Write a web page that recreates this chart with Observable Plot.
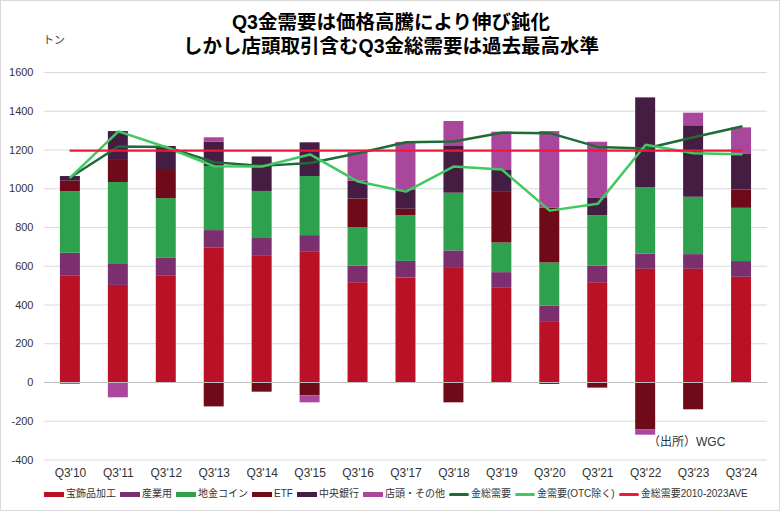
<!DOCTYPE html>
<html>
<head>
<meta charset="utf-8">
<script src="https://cdn.jsdelivr.net/npm/d3@7"></script>
<script src="https://cdn.jsdelivr.net/npm/@observablehq/plot@0.6"></script>
<style>
  html, body { margin: 0; padding: 0; background: #fff; }
  #wrap { position: relative; width: 780px; height: 511px; box-sizing: border-box; border: 1px solid #d9d9d9; overflow: hidden; font-family: "Liberation Sans", Arial, "Noto Sans CJK JP", sans-serif; }
  #title { position: absolute; left: 0; top: 9px; width: 780px; text-align: center; font-family: "Liberation Sans", Arial, "Noto Sans CJK JP", sans-serif; font-weight: 700; font-size: 19.5px; line-height: 24px; color: #000; }
  #unit { position: absolute; left: 42px; top: 33px; font-size: 11px; line-height: 13px; color: #404040; font-family: "Liberation Sans", "Noto Sans CJK JP", sans-serif; }
  #chart { position: absolute; left: -1px; top: 61px; }
  #source { position: absolute; left: 647px; top: 434px; font-size: 12px; line-height: 14px; color: #333; font-family: "Liberation Sans", "Noto Sans CJK JP", sans-serif; }
  #legend { position: absolute; left: 43px; top: 487px; display: flex; align-items: center; font-size: 10px; line-height: 12px; color: #333; font-family: "Liberation Sans", Arial, "Noto Sans CJK JP", sans-serif; white-space: nowrap; }
  #legend .item { display: flex; align-items: center; margin-right: 4px; }
  #legend .sw { width: 20px; height: 5px; margin-right: 2px; }
  #legend .ln { width: 20px; height: 3px; margin-right: 2px; border-radius: 2px; }
  #chart svg [aria-label="y-axis tick label"] text { font-size: 11px; }
</style>
</head>
<body>
<div id="wrap">
  <div id="title">Q3金需要は価格高騰により伸び鈍化<br>しかし店頭取引含むQ3金総需要は過去最高水準</div>
  <div id="unit">トン</div>
  <div id="chart"></div>
  <div id="source">（出所）WGC</div>
  <div id="legend"></div>
</div>
<script>
const quarters = ["Q3'10","Q3'11","Q3'12","Q3'13","Q3'14","Q3'15","Q3'16","Q3'17","Q3'18","Q3'19","Q3'20","Q3'21","Q3'22","Q3'23","Q3'24"];
const seriesNames = ["宝飾品加工","産業用","地金コイン","ETF","中央銀行","店頭・その他"];
const seriesColors = ["#ba1126","#7b2f6e","#2ea14f","#6f0a18","#461d42","#a8479b"];

const jewelry    = [548, 501, 548, 693, 651, 675, 515, 539, 593, 486, 314, 515, 584, 584, 543];
const industrial = [119, 112,  95,  91,  92,  83,  86,  86,  86,  81,  80,  86,  79,  76,  81];
const barCoin    = [318, 419, 306, 331, 243, 305, 198, 236, 298, 153, 223, 260, 343, 296, 275];
const etf        = [ 54, 114, 145,-126, -50, -69, 148,  33,-105, 265, 282, -29,-245,-141,  95];
const centralBank= [ 24, 149, 124, 125, 178, 174,  92,  97, 241, 109, -10,  92, 463, 369, 186];
const otcOther   = [-10, -79,   0,  23,   0, -36, 148, 248, 129, 198, 396, 287, -27,  65, 134];

const totalDemand = [1059, 1218, 1216, 1137, 1118, 1133, 1183, 1240, 1244, 1289, 1287, 1216, 1208, 1266, 1321];
const demandExOTC = [1059, 1296, 1214, 1116, 1115, 1177, 1037,  985, 1115, 1099,  887,  922, 1227, 1183, 1178];
const avg2010_2023 = 1197;

const lineNames = ["金総需要","金需要(OTC除く)","金総需要2010-2023AVE"];
const lineColors = ["#1f6b35","#40c862","#f0193a"];
const yTicks = [-400,-200,0,200,400,600,800,1000,1200,1400,1600];

const seriesValues = [jewelry, industrial, barCoin, etf, centralBank, otcOther];
const barData = seriesNames.flatMap((s, si) => quarters.map((q, qi) => ({q, s, v: seriesValues[si][qi]})));
const totalData = quarters.map((q, i) => ({q, v: totalDemand[i]}));
const exData = quarters.map((q, i) => ({q, v: demandExOTC[i]}));
const avgData = quarters.map(q => ({q, v: avg2010_2023}));

const chart = Plot.plot({
  width: 780,
  height: 425,
  marginLeft: 44,
  marginRight: 12,
  marginTop: 10,
  marginBottom: 27,
  style: {fontFamily: "'Liberation Sans', Arial, sans-serif", fontSize: "12px", color: "#333", background: "transparent"},
  x: {domain: quarters, paddingInner: 0.59, paddingOuter: 0.295, label: null, tickSize: 0, tickPadding: 9},
  y: {domain: [-400, 1600], ticks: yTicks, label: null, tickSize: 0, tickPadding: 11, tickFormat: d => String(d)},
  color: {domain: seriesNames, range: seriesColors},
  marks: [
    Plot.ruleY(yTicks.filter(d => d !== 0), {stroke: "#d9d9d9", strokeWidth: 1}),
    Plot.barY(barData, Plot.stackY({x: "q", y: "v", fill: "s", order: seriesNames})),
    Plot.ruleY([0], {stroke: "#bfbfbf", strokeWidth: 1}),
    Plot.line(totalData, {x: "q", y: "v", stroke: lineColors[0], strokeWidth: 2.5}),
    Plot.line(exData, {x: "q", y: "v", stroke: lineColors[1], strokeWidth: 2.5}),
    Plot.line(avgData, {x: "q", y: "v", stroke: lineColors[2], strokeWidth: 2.2})
  ]
});
document.getElementById("chart").appendChild(chart);

const legend = document.getElementById("legend");
seriesNames.forEach((n, i) => {
  const it = document.createElement("div"); it.className = "item";
  it.innerHTML = `<span class="sw" style="background:${seriesColors[i]}"></span><span>${n}</span>`;
  legend.appendChild(it);
});
lineNames.forEach((n, i) => {
  const it = document.createElement("div"); it.className = "item";
  it.innerHTML = `<span class="ln" style="background:${lineColors[i]}"></span><span>${n}</span>`;
  legend.appendChild(it);
});
</script>
</body>
</html>
